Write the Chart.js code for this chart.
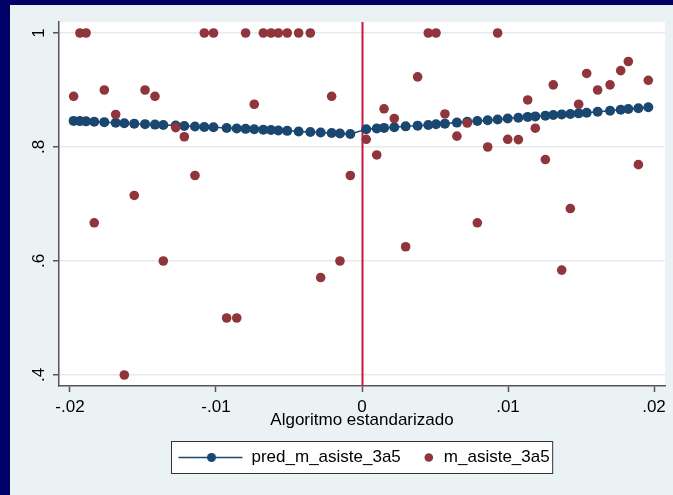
<!DOCTYPE html>
<html>
<head>
<meta charset="utf-8">
<script src="https://cdn.jsdelivr.net/npm/chart.js@4.4.1/dist/chart.umd.min.js"></script>
<style>
  html, body { margin: 0; padding: 0; background: #eaf2f3; }
</style>
</head>
<body>
<canvas id="rd-plot" width="673" height="495"></canvas>
<script>
// Colors (Stata s2color look)
var predColor = "#1a476f";
var obsColor = "#90353b";
var cutoffColor = "#cc1440";
var frameColor = "#eaf2f3";

// Data: bins of the standardized algorithm score
var xBins = [
  -0.01975, -0.01932, -0.0189, -0.01834, -0.01765, -0.01687, -0.01628, -0.0156, -0.01486, -0.01418,
  -0.01361, -0.01276, -0.01217, -0.01144, -0.0108, -0.01017, -0.00927, -0.00858, -0.00797, -0.00738,
  -0.00676, -0.00623, -0.00573, -0.00512, -0.00434, -0.00354, -0.00283, -0.00208, -0.00151, -0.0008,
  0.00029, 0.00101, 0.00151, 0.00221, 0.00299, 0.00381, 0.00454, 0.00507, 0.00568, 0.0065,
  0.00721, 0.0079, 0.00861, 0.00929, 0.00998, 0.01071, 0.01135, 0.01187, 0.01256, 0.0131,
  0.01368, 0.01427, 0.01484, 0.01539, 0.01614, 0.01699, 0.01772, 0.01824, 0.01893, 0.01961
];

var predAsiste = [
  0.8458, 0.8454, 0.845, 0.8444, 0.8436, 0.8425, 0.8418, 0.841, 0.8401, 0.8393,
  0.8386, 0.8376, 0.8369, 0.836, 0.8352, 0.8345, 0.8334, 0.8326, 0.8318, 0.8311,
  0.8303, 0.8297, 0.829, 0.8283, 0.8273, 0.8263, 0.8254, 0.8245, 0.8238, 0.8229,
  0.831, 0.8325, 0.8335, 0.8347, 0.8362, 0.8375, 0.8387, 0.8398, 0.841, 0.8428,
  0.8442, 0.8456, 0.847, 0.8484, 0.85, 0.8513, 0.8528, 0.8537, 0.855, 0.856,
  0.8572, 0.858, 0.859, 0.8602, 0.8618, 0.8637, 0.8654, 0.8666, 0.868, 0.8696
];

var obsAsiste = [
  0.889, 1, 1, 0.667, 0.9, 0.857, 0.4, 0.715, 0.9, 0.889,
  0.6, 0.834, 0.818, 0.75, 1, 1, 0.5, 0.5, 1, 0.875,
  1, 1, 1, 1, 1, 1, 0.571, 0.889, 0.6, 0.75,
  0.8135, 0.786, 0.867, 0.85, 0.625, 0.923, 1, 1, 0.858, 0.819,
  0.842, 0.667, 0.8, 1, 0.8135, 0.813, 0.8825, 0.833, 0.778, 0.909,
  0.584, 0.692, 0.875, 0.929, 0.9, 0.909, 0.934, 0.95, 0.769, 0.917
];

var xTicks = [-0.02, -0.01, 0, 0.01, 0.02];
var yTicks = [0.4, 0.6, 0.8, 1];
var cutoff = 0;
var xTitle = "Algoritmo estandarizado";
var seriesNames = ["pred_m_asiste_3a5", "m_asiste_3a5"];

// Stata style labels: -.02, .8, 0, 1
function stataLabel(v) {
  var s = String(Math.round(v * 1000) / 1000);
  return s.replace(/^(-?)0\./, "$1.");
}

Chart.defaults.font.family = "'Liberation Sans', Arial, sans-serif";
Chart.defaults.font.size = 17;
Chart.defaults.color = "#000";

// Background, cutoff line and legend box
var stataFrame = {
  id: 'stataFrame',
  beforeDraw: function(chart) {
    var ctx = chart.ctx, a = chart.chartArea;
    ctx.save();
    ctx.fillStyle = frameColor;
    ctx.fillRect(0, 0, chart.width, chart.height);
    ctx.fillStyle = "#000066";
    ctx.fillRect(0, 0, chart.width, 5);
    ctx.fillRect(0, 0, 10, chart.height);
    ctx.fillStyle = "#fff";
    ctx.fillRect(a.left, a.top, a.right - a.left, a.bottom - a.top);
    ctx.restore();
  },
  beforeDatasetsDraw: function(chart) {
    var ctx = chart.ctx, a = chart.chartArea;
    var x = Math.round(chart.scales.x.getPixelForValue(cutoff)) + 0.5;
    ctx.save();
    ctx.strokeStyle = cutoffColor;
    ctx.lineWidth = 2;
    ctx.beginPath();
    ctx.moveTo(x, a.top);
    ctx.lineTo(x, a.bottom);
    ctx.stroke();
    ctx.restore();
  },
  afterDraw: function(chart) {
    var ctx = chart.ctx, a = chart.chartArea;
    ctx.save();
    ctx.font = "17px 'Liberation Sans', Arial, sans-serif";
    var w1 = ctx.measureText(seriesNames[0]).width;
    var w2 = ctx.measureText(seriesNames[1]).width;
    var boxW = 7 + 64 + 9 + w1 + 22 + 6 + 9 + w2 + 9;
    var boxL = Math.round((a.left + a.right) / 2 - boxW / 2) + 0.5;
    var boxT = 441.5, boxH = 32, cy = boxT + boxH / 2;
    ctx.fillStyle = "#fff";
    ctx.fillRect(boxL, boxT, boxW, boxH);
    ctx.strokeStyle = "#333";
    ctx.lineWidth = 1;
    ctx.strokeRect(boxL, boxT, boxW, boxH);
    // line + marker sample
    var lx = boxL + 7;
    ctx.strokeStyle = predColor;
    ctx.lineWidth = 1.5;
    ctx.beginPath();
    ctx.moveTo(lx, cy);
    ctx.lineTo(lx + 64, cy);
    ctx.stroke();
    ctx.fillStyle = predColor;
    ctx.beginPath();
    ctx.arc(lx + 33, cy, 4.5, 0, Math.PI * 2);
    ctx.fill();
    ctx.fillStyle = "#000";
    ctx.textBaseline = "middle";
    var tx = lx + 64 + 9;
    ctx.fillText(seriesNames[0], tx, cy);
    var dx = tx + w1 + 28;
    ctx.fillStyle = obsColor;
    ctx.beginPath();
    ctx.arc(dx, cy, 4.3, 0, Math.PI * 2);
    ctx.fill();
    ctx.fillStyle = "#000";
    ctx.fillText(seriesNames[1], dx + 15, cy);
    ctx.restore();
  }
};

var plotCanvas = document.getElementById('rd-plot');

var rdChart = new Chart(plotCanvas, {
  type: 'scatter',
  plugins: [stataFrame],
  data: {
    datasets: [
      {
        label: seriesNames[0],
        data: xBins.map(function(x, i) { return { x: x, y: predAsiste[i] }; }),
        showLine: true,
        borderColor: predColor,
        borderWidth: 1.5,
        backgroundColor: predColor,
        pointBackgroundColor: predColor,
        pointBorderWidth: 0,
        pointRadius: 5,
        order: 1
      },
      {
        label: seriesNames[1],
        data: xBins.map(function(x, i) { return { x: x, y: obsAsiste[i] }; }),
        showLine: false,
        backgroundColor: obsColor,
        pointBackgroundColor: obsColor,
        pointBorderWidth: 0,
        pointRadius: 4.8,
        order: 0
      }
    ]
  },
  options: {
    responsive: false,
    animation: false,
    layout: { padding: { left: 10, top: 22, right: 8, bottom: 59 } },
    plugins: {
      legend: { display: false },
      tooltip: { enabled: false }
    },
    scales: {
      x: {
        type: 'linear',
        min: -0.020753,
        max: 0.020753,
        afterBuildTicks: function(s) { s.ticks = xTicks.map(function(v) { return { value: v }; }); },
        afterFit: function(s) { s.height = 50; },
        ticks: { callback: stataLabel, padding: 5, maxRotation: 0, color: '#000' },
        grid: { drawOnChartArea: false, tickLength: 6, tickColor: '#555', tickWidth: 1.5 },
        border: { color: '#555', width: 1.5 },
        title: { display: true, text: xTitle, color: '#000', padding: { top: 0, bottom: 5 } }
      },
      y: {
        type: 'linear',
        min: 0.3807,
        max: 1.0193,
        afterBuildTicks: function(s) { s.ticks = yTicks.map(function(v) { return { value: v }; }); },
        afterFit: function(s) { s.width = 49; },
        ticks: { callback: stataLabel, minRotation: 90, maxRotation: 90, crossAlign: 'center', padding: 7, color: '#000' },
        grid: { color: '#e3ebec', lineWidth: 1.5, tickLength: 6, tickColor: '#555', tickWidth: 1.5 },
        border: { color: '#555', width: 1.5 }
      }
    }
  }
});
</script>
</body>
</html>
